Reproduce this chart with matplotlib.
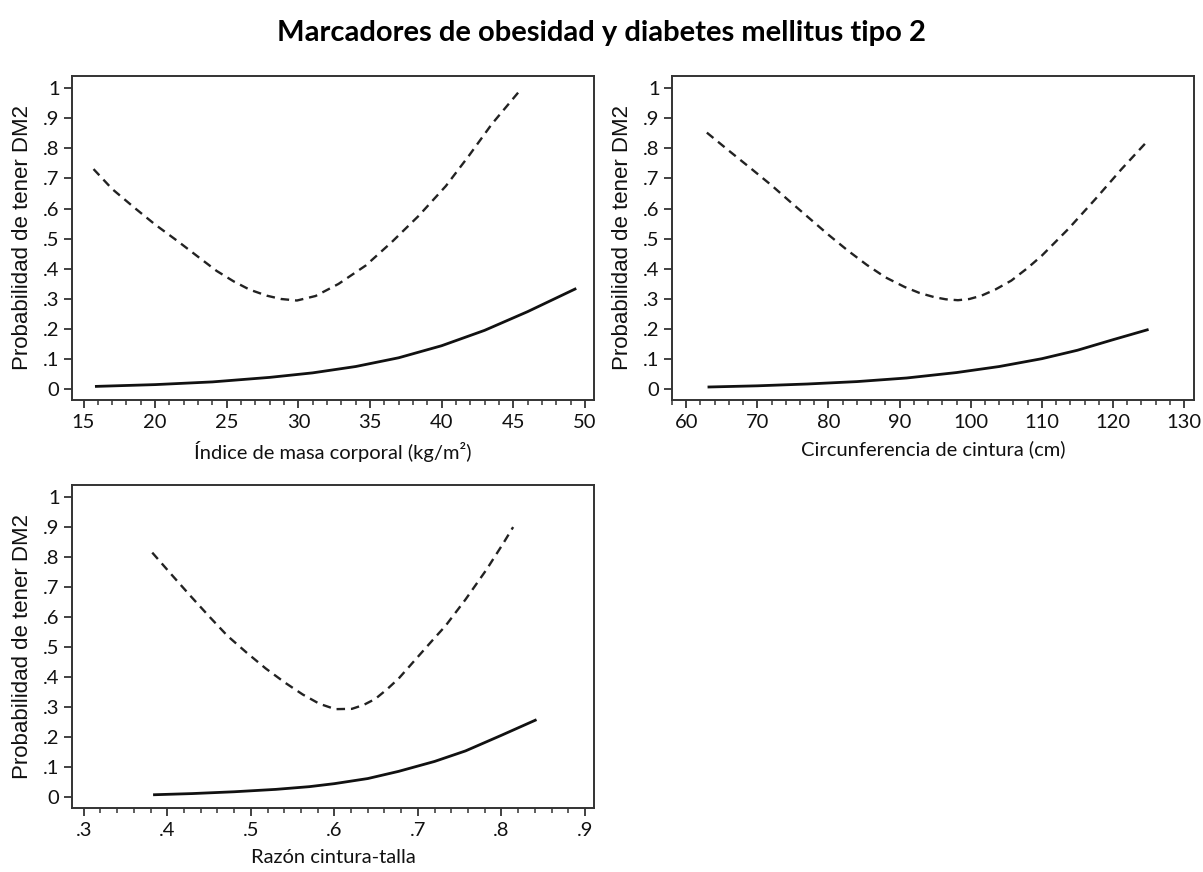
import matplotlib
matplotlib.use("Agg")
import matplotlib.pyplot as plt
from matplotlib.ticker import FixedLocator, FixedFormatter, MultipleLocator

# ---------------- data ----------------
title = "Marcadores de obesidad y diabetes mellitus tipo 2"
ylabel = "Probabilidad de tener DM2"
y_ticks = [0, 0.1, 0.2, 0.3, 0.4, 0.5, 0.6, 0.7, 0.8, 0.9, 1.0]
y_ticklabels = ["0", ".1", ".2", ".3", ".4", ".5", ".6", ".7", ".8", ".9", "1"]

# Panel 1: IMC
imc_label = "Índice de masa corporal (kg/m²)"
imc_ticks = [15, 20, 25, 30, 35, 40, 45, 50]
imc_ticklabels = ["15", "20", "25", "30", "35", "40", "45", "50"]
imc_x = [15.8, 20, 24, 28, 31, 34, 37, 40, 43, 46, 49.4]
imc_p = [0.010, 0.016, 0.025, 0.040, 0.055, 0.076, 0.105, 0.145, 0.196, 0.258, 0.335]
imc_ci_x = [15.7, 17.0, 18.6, 20.0, 21.6, 23.0, 24.3, 25.5, 26.6, 27.8, 28.8, 29.9, 31.2, 32.8, 34.7, 36.5, 38.4, 40.3, 41.9, 43.5, 45.4]
imc_ci = [0.731, 0.665, 0.601, 0.547, 0.491, 0.440, 0.393, 0.358, 0.331, 0.311, 0.300, 0.295, 0.310, 0.350, 0.411, 0.488, 0.576, 0.675, 0.775, 0.880, 0.988]

# Panel 2: circunferencia de cintura
cc_label = "Circunferencia de cintura (cm)"
cc_ticks = [60, 70, 80, 90, 100, 110, 120, 130]
cc_ticklabels = ["60", "70", "80", "90", "100", "110", "120", "130"]
cc_x = [63, 70, 77, 84, 91, 98, 104, 110, 115, 120, 125]
cc_p = [0.008, 0.012, 0.018, 0.026, 0.038, 0.056, 0.076, 0.102, 0.130, 0.165, 0.199]
cc_ci_x = [62.9, 66.0, 69.1, 72.0, 74.6, 77.3, 80.0, 82.7, 85.4, 88.0, 90.7, 92.8, 94.9, 96.5, 98.2, 99.8, 101.5, 103.5, 105.7, 108.0, 110.0, 113.7, 117.5, 121.2, 125.0]
cc_ci = [0.852, 0.792, 0.733, 0.677, 0.623, 0.568, 0.513, 0.461, 0.413, 0.372, 0.340, 0.320, 0.306, 0.299, 0.296, 0.300, 0.311, 0.332, 0.361, 0.403, 0.444, 0.532, 0.631, 0.731, 0.828]

# Panel 3: razón cintura-talla
rct_label = "Razón cintura-talla"
rct_ticks = [0.3, 0.4, 0.5, 0.6, 0.7, 0.8, 0.9]
rct_ticklabels = [".3", ".4", ".5", ".6", ".7", ".8", ".9"]
rct_x = [0.383, 0.43, 0.48, 0.53, 0.57, 0.60, 0.64, 0.677, 0.72, 0.757, 0.80, 0.842]
rct_p = [0.009, 0.013, 0.019, 0.027, 0.036, 0.046, 0.063, 0.087, 0.120, 0.155, 0.207, 0.259]
rct_ci_x = [0.382, 0.405, 0.428, 0.450, 0.472, 0.495, 0.518, 0.541, 0.562, 0.582, 0.601, 0.621, 0.635, 0.649, 0.663, 0.677, 0.691, 0.705, 0.719, 0.733, 0.757, 0.782, 0.802, 0.814]
rct_ci = [0.815, 0.742, 0.670, 0.603, 0.538, 0.482, 0.429, 0.382, 0.343, 0.312, 0.294, 0.295, 0.308, 0.328, 0.360, 0.396, 0.440, 0.484, 0.528, 0.571, 0.659, 0.758, 0.845, 0.900]

# ---------------- figure ----------------
fig = plt.figure(figsize=(12.03, 8.72), dpi=100)

tick_font = "Lato"
label_font = "Liberation Sans"

panels = [
    dict(rect=[0.0599, 0.5413, 0.4340, 0.3716], x=imc_x, p=imc_p, cx=imc_ci_x, c=imc_ci,
         xlim=(14.2, 50.65), ticks=imc_ticks, tl=imc_ticklabels, minor=1, xlabel=imc_label),
    dict(rect=[0.5586, 0.5413, 0.4340, 0.3716], x=cc_x, p=cc_p, cx=cc_ci_x, c=cc_ci,
         xlim=(58.0, 131.4), ticks=cc_ticks, tl=cc_ticklabels, minor=2, xlabel=cc_label),
    dict(rect=[0.0599, 0.0734, 0.4340, 0.3704], x=rct_x, p=rct_p, cx=rct_ci_x, c=rct_ci,
         xlim=(0.286, 0.911), ticks=rct_ticks, tl=rct_ticklabels, minor=0.02, xlabel=rct_label),
]

for pn in panels:
    ax = fig.add_axes(pn["rect"])
    ax.plot(pn["x"], pn["p"], color="#111111", lw=2.0, solid_capstyle="butt")
    ax.plot(pn["cx"], pn["c"], color="#222222", lw=1.7, linestyle=(0, (3.6, 2.5)))
    ax.set_xlim(*pn["xlim"])
    ax.set_ylim(-0.035, 1.04)
    ax.yaxis.set_major_locator(FixedLocator(y_ticks))
    ax.yaxis.set_major_formatter(FixedFormatter(y_ticklabels))
    ax.xaxis.set_major_locator(FixedLocator(pn["ticks"]))
    ax.xaxis.set_major_formatter(FixedFormatter(pn["tl"]))
    ax.xaxis.set_minor_locator(MultipleLocator(pn["minor"]))
    for s in ax.spines.values():
        s.set_linewidth(1.4)
        s.set_color("#333333")
    ax.tick_params(axis="both", which="major", direction="out", length=6, width=1.3,
                   color="#333333", labelsize=14.5, pad=3)
    ax.tick_params(axis="x", which="major", pad=4)
    ax.tick_params(axis="x", which="minor", direction="out", length=3.5, width=1.1, color="#333333")
    ax.tick_params(axis="y", which="minor", left=False)
    for lab in ax.get_xticklabels() + ax.get_yticklabels():
        lab.set_fontfamily(tick_font)
        lab.set_color("#111111")
    ax.set_xlabel(pn["xlabel"], fontsize=14.5, family=tick_font, color="#111111", labelpad=7)
    ax.set_ylabel(ylabel, fontsize=16, family=label_font, color="#111111", labelpad=7)

fig.text(0.5, 0.962, title, ha="center", va="center", fontsize=21, fontweight="bold",
         family="Lato", color="#000000")

fig.savefig("out.png", dpi=100, facecolor="white")
